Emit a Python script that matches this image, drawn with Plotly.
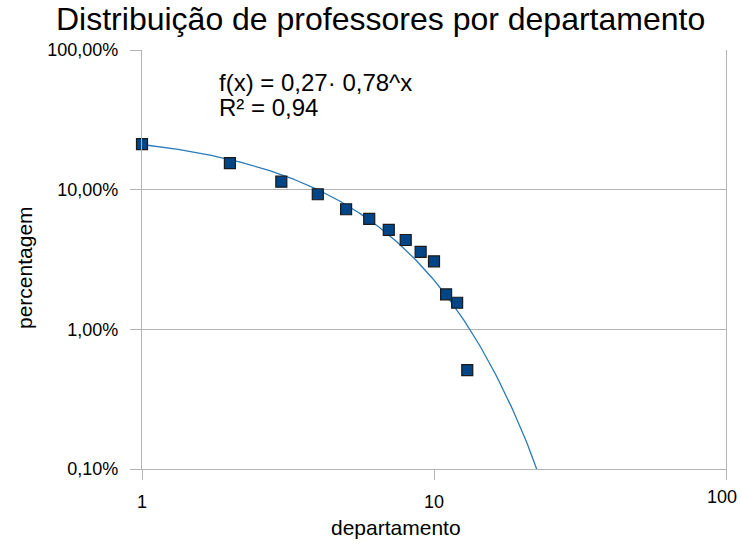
import numpy as np
import plotly.graph_objects as go

departamento = [1, 2, 3, 4, 5, 6, 7, 8, 9, 10, 11, 12, 13]
percentagem = [0.212, 0.155, 0.114, 0.0927, 0.0724, 0.0617, 0.0515, 0.0436,
               0.0358, 0.0307, 0.0178, 0.0155, 0.0051]

# Exponential trend line shown on the chart: f(x) = a * b^x
trend_a = 0.27
trend_b = 0.78
x_ticks = [1, 10, 100]
x_ticktext = ["1", "10", "100"]
y_ticks = [0.001, 0.01, 0.1, 1]

xt = np.logspace(0, np.log10(30), 300)
yt = trend_a * trend_b ** xt

# plot area in screenshot pixels
PL, PR, PT, PB = 142, 726, 50, 469
W, H = 741, 547


def px(x):
    return (x - PL) / (PR - PL)


def py(y):
    return 1 - (y - PT) / (PB - PT)


fig = go.Figure()
fig.add_trace(go.Scatter(x=xt, y=yt, mode="lines",
                         line=dict(color="#2a7ab8", width=1.3),
                         hoverinfo="skip", showlegend=False))
fig.add_trace(go.Scatter(x=departamento, y=percentagem, mode="markers",
                         cliponaxis=False,
                         marker=dict(symbol="square", size=11, color="#004586",
                                     line=dict(color="#1a1a1a", width=1.2)),
                         showlegend=False))

font = "Liberation Sans, Arial, sans-serif"
fig.update_layout(
    width=W, height=H,
    margin=dict(l=PL, r=W - PR, t=PT, b=H - PB),
    paper_bgcolor="white", plot_bgcolor="white",
    separators=",.",
    font=dict(family=font, color="#000000"),
    xaxis=dict(type="log", range=[0, 2], tickvals=x_ticks,
               ticktext=x_ticktext[:-1] + [""],
               showgrid=False, zeroline=False,
               showline=True, linecolor="#b3b3b3", linewidth=1.3,
               ticks="outside", ticklen=10, tickcolor="#b3b3b3",
               tickfont=dict(size=18), ticklabelstandoff=6),
    yaxis=dict(type="log", range=[-3, 0], tickvals=y_ticks,
               tickformat=".2%",
               showgrid=True, gridcolor="#b3b3b3", gridwidth=1.3,
               zeroline=False,
               showline=True, mirror=True, linecolor="#b3b3b3", linewidth=1.3,
               ticks="outside", ticklen=11, tickcolor="#b3b3b3",
               tickfont=dict(size=18), ticklabelstandoff=8),
    annotations=[
        dict(text="Distribuição de professores por departamento",
             xref="paper", yref="paper", x=px(380), y=py(19),
             xanchor="center", yanchor="middle", showarrow=False,
             font=dict(size=32, family=font, color="#000000")),
        dict(text="f(x) = 0,27· 0,78^x", xref="paper", yref="paper",
             x=px(217), y=py(83), xanchor="left", yanchor="middle",
             showarrow=False, font=dict(size=24, family=font, color="#000000")),
        dict(text="R² = 0,94", xref="paper", yref="paper",
             x=px(217), y=py(107), xanchor="left", yanchor="middle",
             showarrow=False, font=dict(size=24, family=font, color="#000000")),
        # last x tick label, nudged inside the page as in the reference
        dict(text=x_ticktext[-1], xref="paper", yref="paper",
             x=px(722), y=py(497), xanchor="center", yanchor="middle",
             showarrow=False, font=dict(size=18, family=font, color="#000000")),
        dict(text="departamento", xref="paper", yref="paper",
             x=px(396), y=py(527), xanchor="center", yanchor="middle",
             showarrow=False, font=dict(size=21, family=font, color="#000000")),
        dict(text="percentagem", xref="paper", yref="paper", textangle=-90,
             x=px(24), y=py(268), xanchor="center", yanchor="middle",
             showarrow=False, font=dict(size=21, family=font, color="#000000")),
    ],
)
fig.write_html("out.html", config={"displayModeBar": False},
               post_script="document.body.style.margin='0';"
                           "document.body.style.overflow='hidden';")
